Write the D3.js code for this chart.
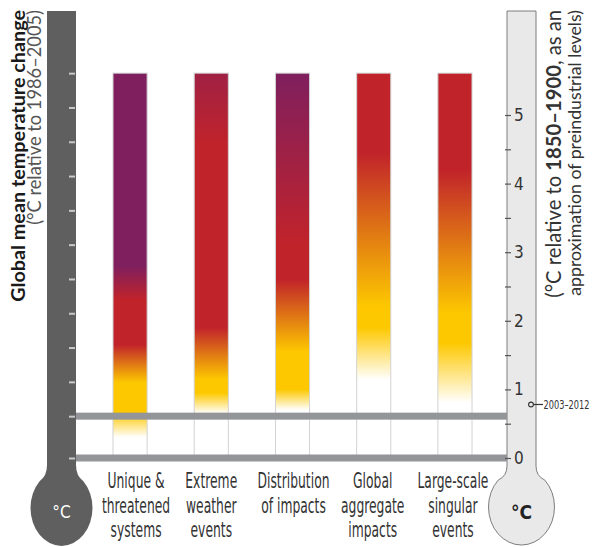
<!DOCTYPE html>
<html><head><meta charset="utf-8">
<script src="https://cdn.jsdelivr.net/npm/d3@7"></script>
<style>body{margin:0;background:#fff}svg{display:block}</style>
</head><body><svg id="c" width="592" height="547"></svg>
<script>
// ---------------- data ----------------
const categories = ["Unique & threatened systems","Extreme weather events","Distribution of impacts","Global aggregate impacts","Large-scale singular events"];
const categoryLines = [["Unique &","threatened","systems"],["Extreme","weather","events"],["Distribution","of impacts"],["Global","aggregate","impacts"],["Large-scale","singular","events"]];
// risk transitions: [°C above 1850–1900, risk level] (0 undetectable, 1 moderate, 2 high, 3 very high)
const riskUnique       = [[0.30,0],[0.66,1],[1.10,1],[1.65,2],[2.30,2],[2.80,3],[5.61,3]];
const riskExtreme      = [[0.65,0],[0.95,1],[1.15,1],[1.90,2],[4.55,2],[5.61,2.5]];
const riskDistribution = [[0.70,0],[1.00,1],[1.55,1],[2.60,2],[3.10,2],[5.61,3]];
const riskGlobal       = [[1.14,0],[1.90,1],[2.20,1],[4.45,2],[5.61,2]];
const riskLargeScale   = [[0.80,0],[1.68,1],[2.10,1],[4.20,2],[5.61,2]];
const riskSeries = [riskUnique,riskExtreme,riskDistribution,riskGlobal,riskLargeScale];
const barTop = 5.61;                 // top of assessment bars (°C above 1850–1900)
const baselineOffset = 0.61;         // 1986–2005 relative to 1850–1900
const observed = {label:"2003–2012", value:0.78};
const rightTicks = [0,1,2,3,4,5];
const rightMinorTicks = [0.5,1.5,2.5,3.5,4.5];
const leftTicks = [-0.61,0,0.5,1,1.5,2,2.5,3,3.5,4,4.5,5];
const levelColors = ["#ffffff","#fdc800","#e3841f","#c1232a","#7f1f5e"];
const levelDomain = [0,1,1.5,2,3];

// ---------------- chart ----------------
const svg = d3.select("#c");
const narrow = "'Liberation Sans Narrow','DejaVu Sans Condensed','Roboto Condensed','Liberation Sans',Arial,sans-serif";
const sans = "Lato,'Liberation Sans',Arial,sans-serif";

const y = d3.scaleLinear().domain([0,5]).range([458,115]);
const x = d3.scaleBand().domain(categories).range([113,472]).paddingInner(0.58).paddingOuter(0);
const color = d3.scaleLinear().domain(levelDomain).range(levelColors).interpolate(d3.interpolateRgb);

// thermometers
const L = {x0:47,x1:76,cx:61.5,cy:508,rx:31,ry:38,neck:465};
const R = {x0:507,x1:536,cx:521.5,cy:507,rx:33,ry:38,neck:466};
function thermo(T){
  const a = Math.PI/4;
  const px = T.rx*Math.sin(a), py = T.cy - T.ry*Math.cos(a);
  const cyc = (T.neck + py)/2 + 3;
  return `M${T.x0},11 H${T.x1} V${T.neck} Q${T.x1},${cyc} ${T.cx+px},${py} ` +
         `A${T.rx},${T.ry} 0 1 1 ${T.cx-px},${py} Q${T.x0},${cyc} ${T.x0},${T.neck} Z`;
}
svg.append("path").attr("d",thermo(L)).attr("fill","#5f5f5f");
svg.append("path").attr("d",thermo(R)).attr("fill","#e9e9ea").attr("stroke","#7d7d7d").attr("stroke-width",1);

// gradients
const defs = svg.append("defs");
riskSeries.forEach((s,i)=>{
  const g = defs.append("linearGradient").attr("id","g"+i)
    .attr("gradientUnits","userSpaceOnUse").attr("x1",0).attr("x2",0)
    .attr("y1",y(0)).attr("y2",y(barTop));
  g.selectAll("stop").data(s).join("stop")
    .attr("offset",d=>d[0]/barTop).attr("stop-color",d=>color(d[1]));
});

// bars
svg.selectAll("rect.bar").data(categories).join("rect").attr("class","bar")
  .attr("x",d=>x(d)).attr("width",x.bandwidth())
  .attr("y",y(barTop)).attr("height",y(0)-y(barTop))
  .attr("fill",(d,i)=>`url(#g${i})`).attr("stroke","#d2d2d2").attr("stroke-width",1);

// horizontal reference bands
svg.selectAll("rect.band").data([baselineOffset,0]).join("rect").attr("class","band")
  .attr("x",L.x1).attr("width",R.x0-L.x1)
  .attr("y",d=>y(d)-3.5).attr("height",7).attr("fill","#939598");

// left ticks (relative to 1986–2005)
const yLeft = d3.scaleLinear().domain(y.domain().map(v=>v-baselineOffset)).range(y.range());
const la = svg.append("g").attr("transform",`translate(${L.x1-1},0)`)
  .call(d3.axisLeft(yLeft).tickValues(leftTicks).tickSize(6).tickFormat(""));
la.select(".domain").remove();
la.selectAll("line").attr("stroke","#c9c9c9").attr("stroke-width",2);

// right axis
const ra = svg.append("g").attr("transform",`translate(${R.x0-2},0)`)
  .call(d3.axisRight(y).tickValues(rightTicks).tickSize(6).tickPadding(3).tickFormat(d3.format("d")));
ra.select(".domain").remove();
ra.selectAll("line").attr("stroke","#555").attr("stroke-width",1.2);
ra.selectAll("text").attr("font-family",narrow).attr("font-size",17).attr("fill","#333");
const rm = svg.append("g").attr("transform",`translate(${R.x0-2},0)`)
  .call(d3.axisRight(y).tickValues(rightMinorTicks).tickSize(6).tickFormat(""));
rm.select(".domain").remove();
rm.selectAll("line").attr("stroke","#555").attr("stroke-width",1.2);

// observed marker
const oy = y(observed.value);
svg.append("line").attr("x1",533.5).attr("x2",543).attr("y1",oy).attr("y2",oy).attr("stroke","#333").attr("stroke-width",1.2);
svg.append("circle").attr("cx",531).attr("cy",oy).attr("r",2.4).attr("fill","#e9e9ea").attr("stroke","#333").attr("stroke-width",1.1);
const ot = svg.append("text").attr("font-family",narrow)
  .attr("font-size",12.5).attr("fill","#333").attr("dy","0.35em").text(observed.label);
const osx = Math.min(1, 46/ot.node().getComputedTextLength());
ot.attr("transform",`translate(543.5,${oy}) scale(${osx},1)`);

// bulb labels
svg.append("text").attr("x",L.cx).attr("y",L.cy+4).attr("dy","0.35em").attr("text-anchor","middle")
  .attr("font-family",narrow).attr("font-size",17).attr("fill","#fff").text("°C");
svg.append("text").attr("x",R.cx).attr("y",R.cy+5).attr("dy","0.35em").attr("text-anchor","middle")
  .attr("font-family",narrow).attr("font-size",19).attr("font-weight","bold").attr("fill","#222").text("°C");

// category labels
const baselines = [488,512.5,537];
const labelDx = [6,0,1,-1,-2];
const lab = svg.append("g");
const texts = [];
categories.forEach((c,i)=>{
  categoryLines[i].forEach((t,j)=>{
    const tx = lab.append("text").attr("font-family",narrow).attr("font-size",22).attr("fill","#333")
      .attr("text-anchor","middle").text(t)
      .attr("data-cx",x(c)+x.bandwidth()/2+labelDx[i]).attr("data-y",baselines[j]);
    texts.push(tx);
  });
});
const ref = texts.find(t=>t.text()==="Distribution");
const sx = 72 / ref.node().getComputedTextLength();
texts.forEach(t=>t.attr("transform",`translate(${t.attr("data-cx")},${t.attr("data-y")}) scale(${sx},1)`));

// axis titles (rotated)
function fit(t,len){
  const fs = parseFloat(t.attr("font-size"));
  t.attr("font-size", fs*len/t.node().getComputedTextLength());
}
const t1 = svg.append("text").attr("transform","translate(25,10) rotate(-90)").attr("text-anchor","end")
  .attr("font-family",sans).attr("font-weight","bold").attr("font-size",17).attr("fill","#1a1a1a")
  .text("Global mean temperature change");
fit(t1,292);
const t2 = svg.append("text").attr("transform","translate(41,10) rotate(-90)").attr("text-anchor","end")
  .attr("font-family",sans).attr("font-size",15).attr("fill","#555")
  .text("(°C relative to 1986–2005)");
fit(t2,215);
const t3 = svg.append("text").attr("transform","translate(561,10) rotate(-90)").attr("text-anchor","end")
  .attr("font-family",sans).attr("font-size",16).attr("fill","#333");
t3.append("tspan").text("(°C relative to ");
t3.append("tspan").attr("font-weight","bold").text("1850–1900");
t3.append("tspan").text(", as an");
fit(t3,288);
const t4 = svg.append("text").attr("transform","translate(581,10) rotate(-90)").attr("text-anchor","end")
  .attr("font-family",sans).attr("font-size",16).attr("fill","#333")
  .text("approximation of preindustrial levels)");
fit(t4,286);
</script></body></html>
